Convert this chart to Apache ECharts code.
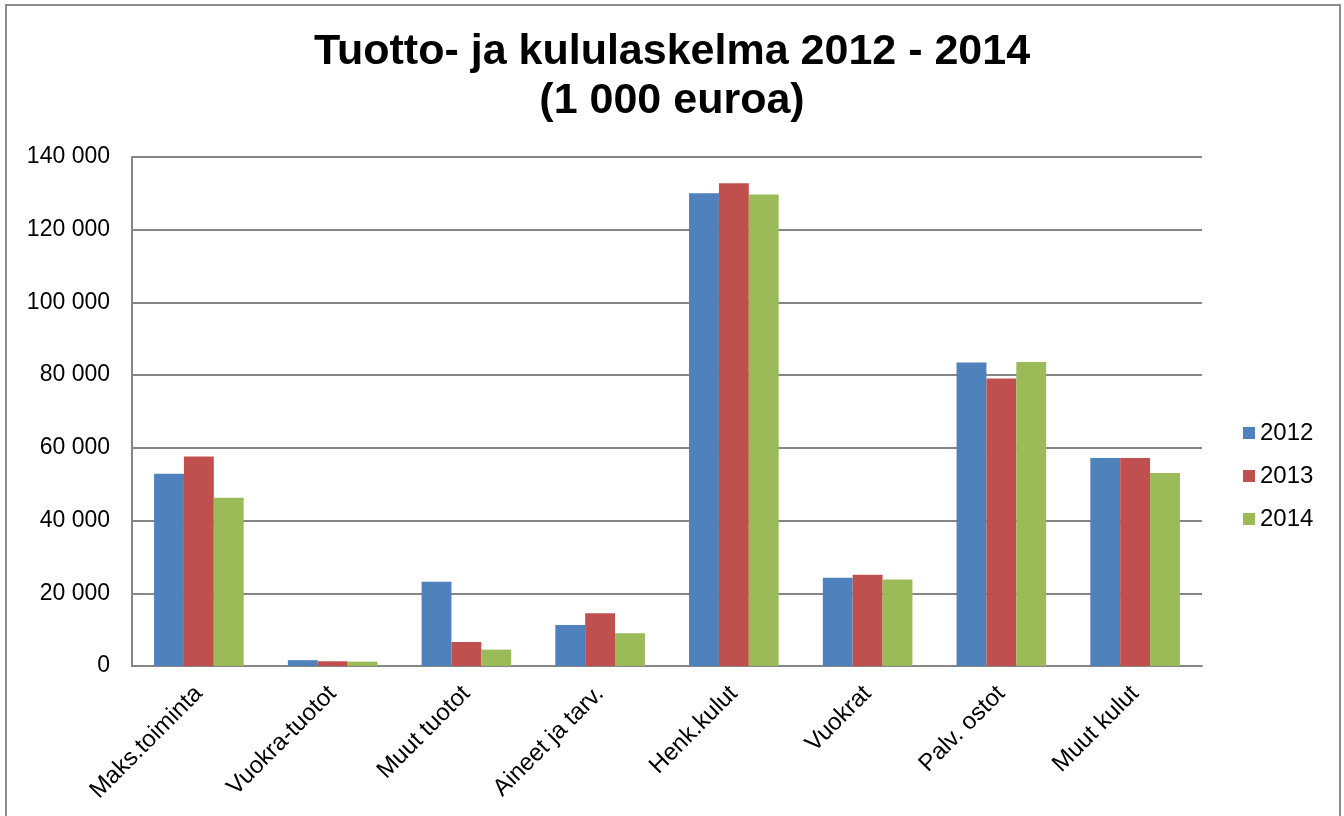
<!DOCTYPE html>
<html>
<head>
<meta charset="utf-8">
<script src="https://cdn.jsdelivr.net/npm/echarts@6/dist/echarts.min.js"></script>
<style>
html,body{margin:0;padding:0;background:#fff;}
#chart{width:1344px;height:816px;}
</style>
</head>
<body>
<div id="chart"></div>
<script>
var categories = ['Maks.toiminta', 'Vuokra-tuotot', 'Muut tuotot', 'Aineet ja tarv.', 'Henk.kulut', 'Vuokrat', 'Palv. ostot', 'Muut kulut'];
var years = ['2012', '2013', '2014'];
var data2012 = [52900, 1600, 23200, 11300, 130000, 24300, 83500, 57200];
var data2013 = [57600, 1300, 6600, 14500, 132800, 25100, 79100, 57200];
var data2014 = [46300, 1200, 4500, 9000, 129700, 23800, 83600, 53100];
var colors = ['#4F81BD', '#C0504D', '#9BBB59'];

var fnt = "'Liberation Sans', Arial, sans-serif";

// 140000 -> "140 000"
function fmt(v){
	return String(v).replace(/\B(?=(\d{3})+(?!\d))/g, ' ');
}

var chart = echarts.init(document.getElementById('chart'));
var allData = [data2012, data2013, data2014];
var series = [];
for (var i = 0; i < years.length; i++) {
	series.push({
		name: years[i],
		type: 'bar',
		data: allData[i],
		barGap: '0%',
		barCategoryGap: '33%',
		itemStyle: { color: colors[i] }
	});
}

var option = {
	animation: false,
	textStyle: { fontFamily: fnt },
	graphic: [{
		type: 'rect',
		shape: { x: 6, y: 5, width: 1334, height: 840 },
		style: { fill: 'none', stroke: '#8c8c8c', lineWidth: 2 },
		silent: true
	}],
	title: {
		text: 'Tuotto- ja kululaskelma 2012 - 2014\n(1 000 euroa)',
		left: 'center',
		top: 28,
		padding: 0,
		textStyle: { fontFamily: fnt, fontSize: 43, fontWeight: 'bold', color: '#000', lineHeight: 49 }
	},
	legend: {
		orient: 'vertical',
		left: 1238,
		top: 415,
		itemWidth: 12,
		itemHeight: 12,
		itemGap: 17,
		icon: 'rect',
		textStyle: { fontFamily: fnt, fontSize: 24, color: '#000', lineHeight: 26 },
		data: years
	},
	grid: { left: 132, right: 142, top: 157, bottom: 150 },
	xAxis: {
		type: 'category',
		data: categories,
		axisLine: { lineStyle: { color: '#868686', width: 2 } },
		axisTick: { show: false },
		axisLabel: { rotate: 45, margin: 24, fontFamily: fnt, fontSize: 24, color: '#000', interval: 0 }
	},
	yAxis: {
		type: 'value',
		min: 0,
		max: 140000,
		interval: 20000,
		axisLine: { show: true, lineStyle: { color: '#868686', width: 2 } },
		axisTick: { show: false },
		splitLine: { lineStyle: { color: '#868686', width: 2 } },
		axisLabel: { margin: 22, fontFamily: fnt, fontSize: 23, color: '#000', formatter: fmt }
	},
	series: series
};
chart.setOption(option);
</script>
</body>
</html>
